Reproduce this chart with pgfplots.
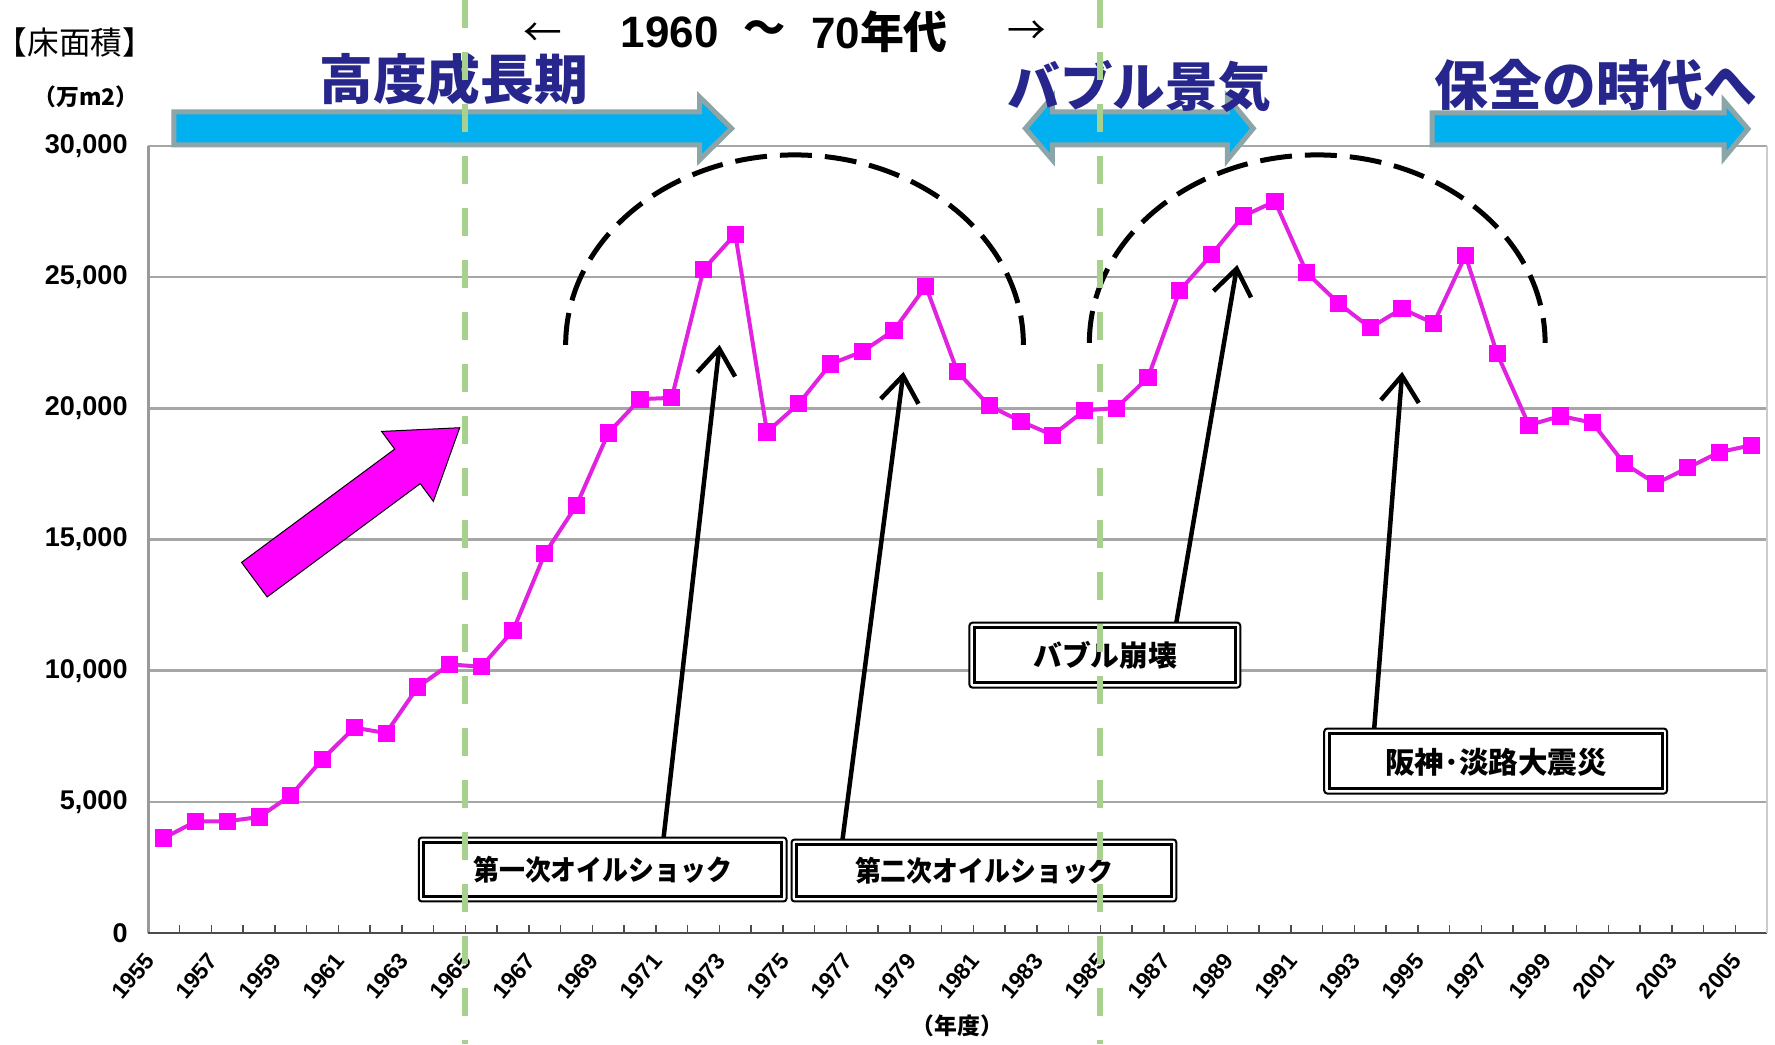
\documentclass[border=0pt]{standalone}
\usepackage{pgfplots}
\pgfplotsset{compat=1.18}
\usetikzlibrary{arrows.meta}
\usepackage{fontspec}
\setmainfont{Liberation Sans}
\newfontfamily\jp{Noto Sans CJK JP}
\definecolor{cyanfill}{RGB}{0,176,240}
\definecolor{arrowedge}{RGB}{140,165,168}
\definecolor{navy}{RGB}{38,38,140}
\definecolor{mag}{RGB}{255,0,255}
\definecolor{magline}{RGB}{225,35,225}
\definecolor{greenl}{RGB}{169,209,142}
\newcommand{\fs}[1]{\fontsize{#1}{#1}\selectfont}

\pgfplotstableread{
year value
1955 3620
1956 4250
1957 4260
1958 4420
1959 5250
1960 6630
1961 7830
1962 7620
1963 9380
1964 10240
1965 10150
1966 11530
1967 14460
1968 16310
1969 19060
1970 20350
1971 20400
1972 25300
1973 26640
1974 19100
1975 20180
1976 21690
1977 22160
1978 22980
1979 24660
1980 21390
1981 20100
1982 19500
1983 18980
1984 19920
1985 20010
1986 21170
1987 24490
1988 25860
1989 27330
1990 27890
1991 25170
1992 24010
1993 23070
1994 23800
1995 23240
1996 25820
1997 22080
1998 19360
1999 19710
2000 19450
2001 17900
2002 17130
2003 17730
2004 18330
2005 18590
}\floorarea

\begin{document}
\begin{tikzpicture}
\useasboundingbox (0,0) rectangle (17.75cm,-10.45cm);
\begin{axis}[
  at={(1.48cm,-9.33cm)}, anchor=south west,
  width=16.19cm, height=7.87cm, scale only axis,
  xmin=1954.5, xmax=2005.5, ymin=0, ymax=30000,
  clip=false,
  axis line style={draw=none},
  ymajorgrids, grid style={black!35, line width=0.025cm},
  ytick={0,5000,10000,15000,20000,25000,30000},
  scaled y ticks=false,
  yticklabel={\pgfmathprintnumber[1000 sep={,},assume math mode=true,fixed]{\tick}},
  yticklabel style={font=\fs{7.7pt}\bfseries, anchor=east, xshift=-0.08cm},
  xtick={1955,1957,1959,1961,1963,1965,1967,1969,1971,1973,1975,1977,1979,1981,1983,1985,1987,1989,1991,1993,1995,1997,1999,2001,2003,2005},
  xticklabels={1955,1957,1959,1961,1963,1965,1967,1969,1971,1973,1975,1977,1979,1981,1983,1985,1987,1989,1991,1993,1995,1997,1999,2001,2003,2005},
  xticklabel style={font=\fs{6.5pt}\bfseries, anchor=north east, inner sep=0.5pt, xshift=-0.21cm, yshift=-0.15cm, rotate=50},
  minor xtick={1954.5,1955.5,...,2005.5},
  major tick length=0pt, minor tick length=0.08cm, tick align=inside,
  minor tick style={black!70, line width=0.015cm},
  xtick pos=bottom, ytick pos=left,
]
\draw[black!40, line width=0.03cm] (rel axis cs:0,0) -- (rel axis cs:0,1);
\draw[black!70, line width=0.02cm] (rel axis cs:0,0) -- (rel axis cs:1,0);
\draw[black!20, line width=0.015cm] (rel axis cs:1,0) -- (rel axis cs:1,1);
\addplot[magline, line width=0.04cm, mark=square*, mark size=2.3pt,
  mark options={fill=mag, draw=mag, line width=0pt}] table[x=year, y=value] {\floorarea};
\end{axis}

\begin{scope}[x=0.01cm, y=-0.01cm]
% blue arrows
\draw[arrowedge, fill=cyanfill, line width=0.05cm, line join=miter]
  (174,112) -- (700,112) -- (700,97) -- (732,128.5) -- (700,160) -- (700,145) -- (174,145) -- cycle;
\draw[arrowedge, fill=cyanfill, line width=0.05cm, line join=miter]
  (1026,128.5) -- (1053,97) -- (1053,112) -- (1228,112) -- (1228,97) -- (1254,128.5)
  -- (1228,160) -- (1228,145) -- (1053,145) -- (1053,160) -- cycle;
\draw[arrowedge, fill=cyanfill, line width=0.05cm, line join=miter]
  (1433,113) -- (1725,113) -- (1725,101) -- (1749,129) -- (1725,158) -- (1725,145) -- (1433,145) -- cycle;

% headings
\node[font=\jp\bfseries\fs{15.3pt}, text=navy, inner sep=0] at (454,79) {高度成長期};
\node[font=\jp\bfseries\fs{15pt}, text=navy, inner sep=0] at (1140,87) {バブル景気};
\node[font=\jp\bfseries\fs{15.3pt}, text=navy, inner sep=0] at (1597,85) {保全の時代へ};

% top line
\node[font=\jp\fs{11pt}, inner sep=0] at (543,35) {←};
\node[font=\bfseries\fs{12.5pt}, inner sep=0] at (670,32) {1960};
\node[font=\jp\bfseries\fs{12pt}, inner sep=0] at (765,32) {〜};
\node[font=\bfseries\fs{12.5pt}, inner sep=0] at (880,32) {70{\jp 年代}};
\node[font=\jp\fs{11pt}, inner sep=0] at (1027,33) {→};

% axis titles
\node[font=\jp\fs{9pt}, inner sep=0] at (75,43) {【床面積】};
\node[font=\jp\bfseries\fs{6.5pt}, inner sep=0] at (86,97) {（万m2）};
\node[font=\jp\bfseries\fs{6.5pt}, inner sep=0] at (958,1026) {（年度）};

% magenta block arrow
\begin{scope}[shift={(254.5,580)}, rotate=36.5]
\draw[black, line width=0.01cm, fill=mag] (0,-21.5) -- (190.6,-21.5) -- (190.6,-43.5) -- (255.6,0)
  -- (190.6,43.5) -- (190.6,21.5) -- (0,21.5) -- cycle;
\end{scope}

% dashed arcs
\draw[black, line width=0.05cm, dash pattern=on 0.32cm off 0.13cm]
  (566,345) .. controls (566,240) and (668.5,155) .. (795,155) .. controls (921.5,155) and (1024,240) .. (1024,345);
\draw[black, line width=0.05cm, dash pattern=on 0.32cm off 0.13cm]
  (1090,343) .. controls (1090,239) and (1192,155) .. (1318,155) .. controls (1444,155) and (1546,239) .. (1546,343);

% black pointer arrows
\draw[black, line width=0.045cm, -{Straight Barb[length=0.26cm, width=0.38cm]}] (664,838) -- (720,345);
\draw[black, line width=0.045cm, -{Straight Barb[length=0.26cm, width=0.38cm]}] (843,840) -- (904,372);
\draw[black, line width=0.045cm, -{Straight Barb[length=0.26cm, width=0.38cm]}] (1177,623) -- (1238,265);
\draw[black, line width=0.045cm, -{Straight Barb[length=0.26cm, width=0.38cm]}] (1375,729) -- (1403,372);

% boxes
\draw[black, line width=0.02cm, fill=white, rounded corners=0.03cm] (419,838) rectangle (787,902);
\draw[black, line width=0.03cm] (424,843) rectangle (782,897);
\node[font=\jp\bfseries\fs{8pt}, inner sep=0] at (603,870) {\scalebox{0.92}[1]{第一次オイルショック}};

\draw[black, line width=0.02cm, fill=white, rounded corners=0.03cm] (792,840) rectangle (1177,902);
\draw[black, line width=0.03cm] (797,845) rectangle (1172,897);
\node[font=\jp\bfseries\fs{8pt}, inner sep=0] at (985,871) {\scalebox{0.92}[1]{第二次オイルショック}};

\draw[black, line width=0.02cm, fill=white, rounded corners=0.03cm] (970,623) rectangle (1241,688);
\draw[black, line width=0.03cm] (975,628) rectangle (1236,683);
\node[font=\jp\bfseries\fs{8.2pt}, inner sep=0] at (1106,656) {バブル崩壊};

\draw[black, line width=0.02cm, fill=white, rounded corners=0.03cm] (1325,729) rectangle (1668,794);
\draw[black, line width=0.03cm] (1330,734) rectangle (1663,789);
\node[font=\jp\bfseries\fs{8.4pt}, inner sep=0] at (1497,763) {阪神･淡路大震災};

% green dashed lines
\draw[greenl, line width=0.06cm, dash pattern=on 0.28cm off 0.24cm] (465.5,0) -- (465.5,1045);
\draw[greenl, line width=0.06cm, dash pattern=on 0.28cm off 0.24cm] (1100.5,0) -- (1100.5,1045);
\end{scope}
\end{tikzpicture}
\end{document}
